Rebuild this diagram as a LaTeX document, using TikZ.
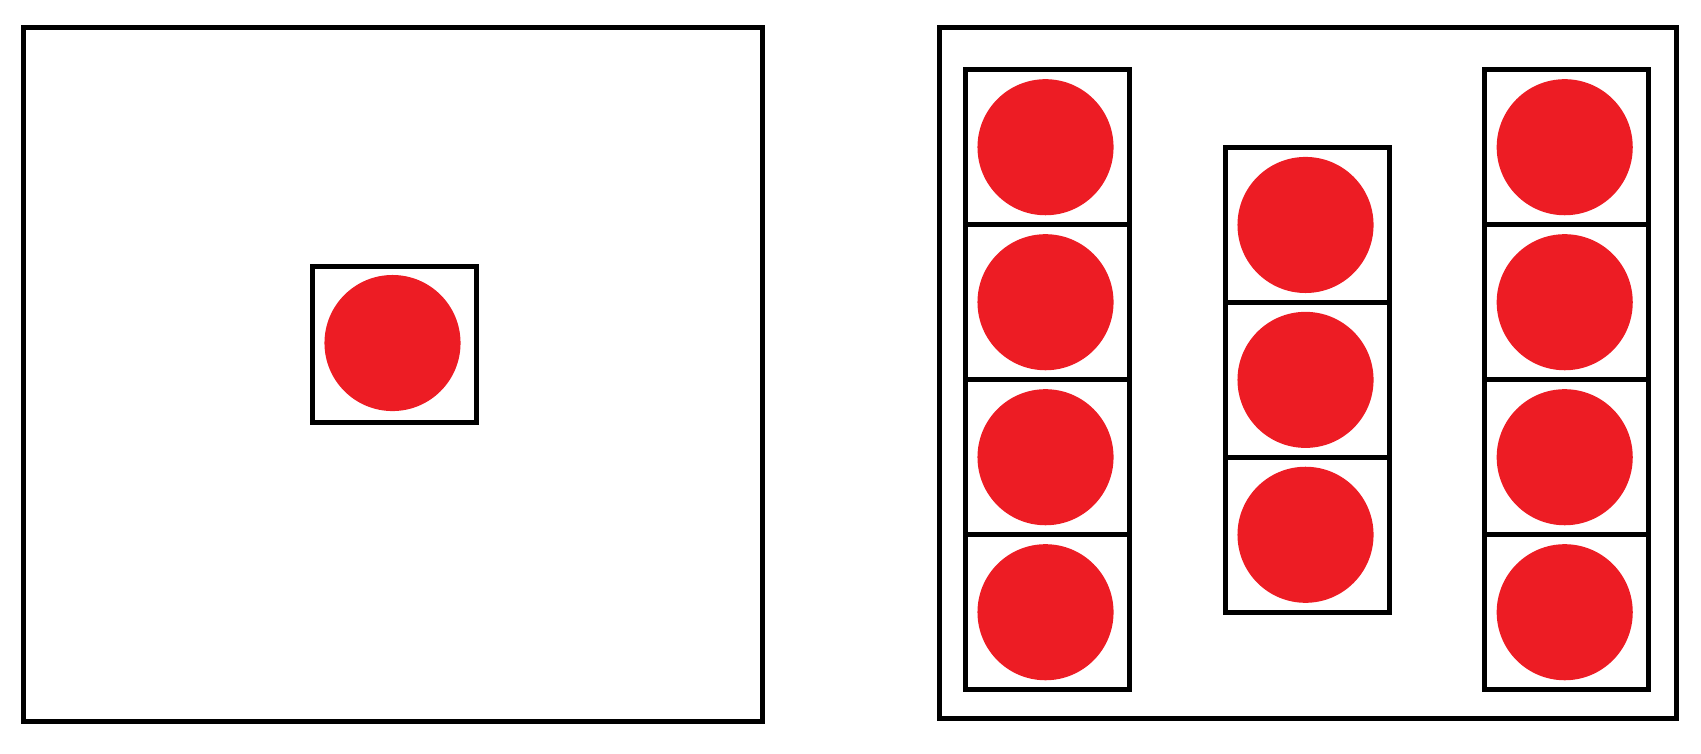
\documentclass[tikz,border=0pt]{standalone}
\definecolor{dotred}{RGB}{237,28,36}
\tikzset{
  frame/.style={draw=black, line width=1.42pt, line join=miter},
  cell/.style={rectangle, draw=black, line width=1.42pt, minimum width=1.632cm, minimum height=1.55cm, inner sep=0pt},
  reddot/.style={circle, fill=dotred, draw=none, minimum size=1.36cm, inner sep=0pt}
}
\begin{document}
\begin{tikzpicture}[x=0.01cm, y=-0.01cm]
\useasboundingbox (0,0) rectangle (1701,753);
% left panel
\node[frame, rectangle, inner sep=0pt, minimum width=7.39cm, minimum height=6.94cm] (leftpanel) at (393,374.5) {};
\node[cell, minimum width=1.642cm, minimum height=1.554cm] (single) at (394.6,344.5) {};
\node[reddot] (singledot) at (392.5,343) {};
% right panel
\node[frame, rectangle, inner sep=0pt, minimum width=7.366cm, minimum height=6.908cm] (rightpanel) at (1308,372.9) {};
% left column
\foreach \i in {1,...,4} {
  \node[cell] (L\i) at (1047.4,{69.7+155*(\i-0.5)}) {};
  \node[reddot] (L\i d) at (1045.5,{69.7+155*(\i-0.5)}) {};
}
% middle column
\foreach \i in {1,...,3} {
  \node[cell] (M\i) at (1307.4,{147.5+154.9*(\i-0.5)}) {};
  \node[reddot] (M\i d) at (1305.5,{147.5+154.9*(\i-0.5)}) {};
}
% right column
\foreach \i in {1,...,4} {
  \node[cell, minimum width=1.638cm] (R\i) at (1566.4,{69.7+155*(\i-0.5)}) {};
  \node[reddot] (R\i d) at (1564.7,{69.7+155*(\i-0.5)}) {};
}
\end{tikzpicture}
\end{document}
